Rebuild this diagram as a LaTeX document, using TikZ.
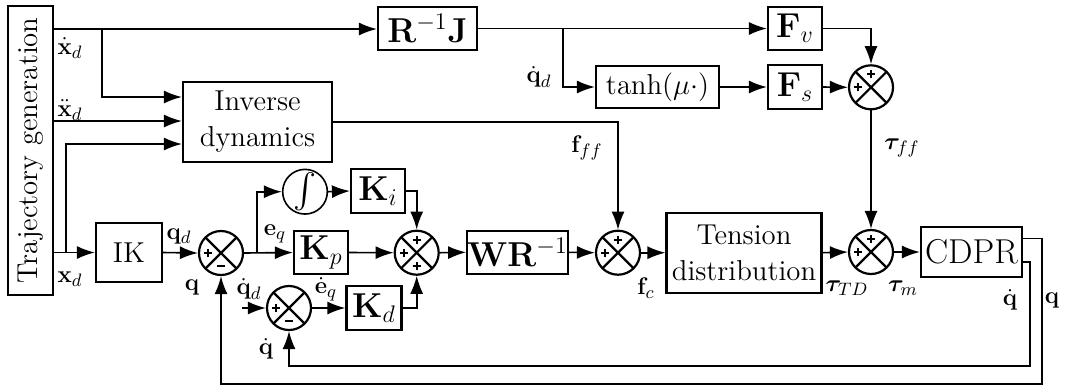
\documentclass[tikz,border=0pt]{standalone}
\usepackage{amsmath,bm}
\usetikzlibrary{arrows.meta,calc}
\tikzset{
 blk/.style={draw, line width=1.1pt, inner sep=0pt, font=\Large},
 sumj/.style={draw, circle, line width=1.1pt, minimum size=22pt, inner sep=0pt,
   path picture={\draw[line width=1.1pt] (path picture bounding box.north west)--(path picture bounding box.south east)
     (path picture bounding box.north east)--(path picture bounding box.south west);}},
 lbl/.style={inner sep=0pt, font=\fontsize{13}{15}\selectfont},
 sig/.style={line width=0.8pt, -{Latex[length=9pt,width=6.5pt]}},
 sgnline/.style={line width=1pt},
}
\newcommand{\plussign}[1]{\draw[sgnline] ($(#1)+(-2pt,0)$) -- ($(#1)+(2pt,0)$) ($(#1)+(0,-2pt)$) -- ($(#1)+(0,2pt)$);}
\newcommand{\minussign}[1]{\draw[sgnline] ($(#1)+(-2pt,0)$) -- ($(#1)+(2pt,0)$);}
\begin{document}
\begin{tikzpicture}[x=0.5pt,y=-0.5pt]
\useasboundingbox (0,0) rectangle (1069,388);
% blocks
\node[blk, minimum width=22.5pt, minimum height=144.5pt] (traj) at (30.5,150.5) {\rotatebox{90}{Trajectory generation}};
\node[blk, font=\LARGE, minimum width=49.5pt, minimum height=21.5pt] (rj) at (427.5,28.5) {$\mathbf{R}^{-1}\mathbf{J}$};
\node[blk, font=\LARGE, minimum width=27pt, minimum height=21.5pt] (fv) at (795,28.5) {$\mathbf{F}_v$};
\node[blk, font=\LARGE, minimum width=27pt, minimum height=22pt] (fs) at (795,87) {$\mathbf{F}_s$};
\node[blk, minimum width=61.5pt, minimum height=21pt] (tanh) at (657.5,87) {$\tanh(\mu\cdot)$};
\node[sumj] (sumff) at (871,87.3) {};
\node[blk, minimum width=74.5pt, minimum height=40pt, align=center] (invdyn) at (257.5,122) {Inverse\\dynamics};
\node[blk, minimum width=33pt, minimum height=29.5pt] (ik) at (129,252.5) {IK};
\node[sumj] (sum1) at (221,253) {};
\node[draw, circle, line width=0.8pt, minimum size=21pt, inner sep=0pt, font=\LARGE] (int) at (305,191.7) {$\int$};
\node[blk, font=\LARGE, minimum width=27pt, minimum height=22pt] (ki) at (378,191) {$\mathbf{K}_i$};
\node[blk, font=\LARGE, minimum width=27pt, minimum height=21.5pt] (kp) at (321,252.5) {$\mathbf{K}_p$};
\node[sumj] (sum2) at (416.7,252.7) {};
\node[sumj] (sum3) at (289,308) {};
\node[blk, font=\LARGE, minimum width=27.5pt, minimum height=22pt] (kd) at (374,308) {$\mathbf{K}_d$};
\node[blk, font=\LARGE, minimum width=49pt, minimum height=21.5pt] (wr) at (517.5,252.3) {$\mathbf{W}\mathbf{R}^{-1}$};
\node[sumj] (sumfc) at (618,252.7) {};
\node[blk, minimum width=77.5pt, minimum height=40pt, align=center] (td) at (744,252.7) {Tension\\distribution};
\node[sumj] (sumtau) at (871,252) {};
\node[blk, font=\LARGE, minimum width=50.5pt, minimum height=25pt] (cdpr) at (971.5,252) {CDPR};
% signs
\plussign{$(sum1.center)+(-6.5pt,0)$}
\minussign{$(sum1.center)+(0,-6.5pt)$}
\plussign{$(sum3.center)+(-6.5pt,0)$}
\minussign{$(sum3.center)+(0,-6.5pt)$}
\plussign{$(sum2.center)+(-6.5pt,0)$}
\plussign{$(sum2.center)+(0,6.5pt)$}
\plussign{$(sum2.center)+(0,-6.5pt)$}
\plussign{$(sumfc.center)+(-6.5pt,0)$}
\plussign{$(sumfc.center)+(0,6.5pt)$}
\plussign{$(sumff.center)+(-6.5pt,0)$}
\plussign{$(sumff.center)+(0,6.5pt)$}
\plussign{$(sumtau.center)+(-6.5pt,0)$}
\plussign{$(sumtau.center)+(0,6.5pt)$}
% helper coordinates
\coordinate (t1) at (53,29);
\coordinate (b1) at (102,29);
\coordinate (b1e) at (102,97);
\coordinate (t2) at (53,121);
\coordinate (b2) at (66,253);
\coordinate (b2e) at (66,144);
\coordinate (bi) at (257,253);
\coordinate (bq) at (562.7,29);
\coordinate (qin) at (241.7,308);
\coordinate (cq1) at (1022,238.3);
\coordinate (cq2) at (1022,261.7);
% top path
\draw[sig] (t1) -- (rj.west |- t1);
\draw[sig] (b1) -- (b1e) -- (invdyn.west |- b1e);
\draw[sig] (t2) -- (invdyn.west |- t2);
\draw[sig] (traj.east |- ik.west) -- (ik.west);
\draw[sig] (b2) -- (b2e) -- (invdyn.west |- b2e);
\draw[sig] (rj.east) -- (fv.west);
\draw[sig] (bq) |- (tanh.west);
\draw[sig] (tanh.east) -- (fs.west);
\draw[sig] (fs.east) -- (sumff.west);
\draw[sig] (fv.east) -| (sumff.north);
\draw[sig] (sumff.south) -- (sumtau.north);
% main loop
\draw[sig] (ik.east) -- (sum1.west);
\draw[sig] (sum1.east) -- (kp.west);
\draw[sig] (bi) |- (int.west);
\draw[sig] (int.east) -- (ki.west);
\draw[sig] (ki.east) -| (sum2.north);
\draw[sig] (kp.east) -- (sum2.west);
\draw[sig] (qin) -- (sum3.west);
\draw[sig] (sum3.east) -- (kd.west);
\draw[sig] (kd.east) -| (sum2.south);
\draw[sig] (sum2.east) -- (wr.west);
\draw[sig] (wr.east) -- (sumfc.west);
\draw[sig] (invdyn.east) -| (sumfc.north);
\draw[sig] (sumfc.east) -- (td.west);
\draw[sig] (td.east) -- (sumtau.west);
\draw[sig] (sumtau.east) -- (cdpr.west);
% feedback
\draw[sig] (cq2) -- (1030,261.7) -- (1030,365.7) -| (sum3.south);
\draw[sig] (cq1) -- (1041.7,238.3) -- (1041.7,384) -| (sum1.south);
% labels
\node[lbl] at (70,48) {$\dot{\mathbf{x}}_d$};
\node[lbl] at (70,110) {$\ddot{\mathbf{x}}_d$};
\node[lbl] at (70,279) {$\mathbf{x}_d$};
\node[lbl] at (179,236) {$\mathbf{q}_d$};
\node[lbl] at (192,287) {$\mathbf{q}$};
\node[lbl] at (275,234) {$\mathbf{e}_q$};
\node[lbl] at (249,289) {$\dot{\mathbf{q}}_d$};
\node[lbl] at (326,289) {$\dot{\mathbf{e}}_q$};
\node[lbl] at (266,349) {$\dot{\mathbf{q}}$};
\node[lbl] at (587,148) {$\mathbf{f}_{ff}$};
\node[lbl] at (539,77) {$\dot{\mathbf{q}}_d$};
\node[lbl] at (646,288) {$\mathbf{f}_c$};
\node[lbl] at (847,288) {$\bm{\tau}_{TD}$};
\node[lbl] at (903,288) {$\bm{\tau}_m$};
\node[lbl] at (1010,300) {$\dot{\mathbf{q}}$};
\node[lbl] at (1052,300) {$\mathbf{q}$};
\node[lbl] at (902,148) {$\bm{\tau}_{ff}$};
\end{tikzpicture}
\end{document}
